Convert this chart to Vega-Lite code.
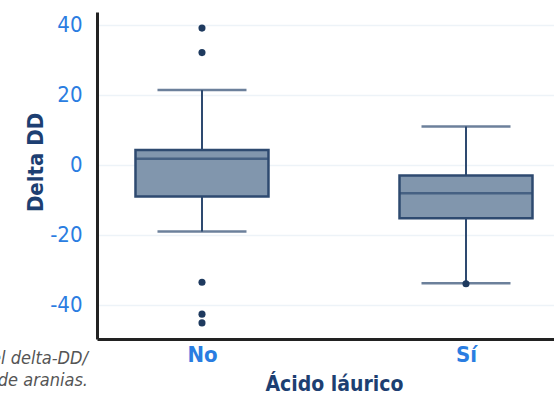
{
  "$schema": "https://vega.github.io/schema/vega-lite/v6.json",
  "width": 457,
  "height": 327,
  "autosize": {"type": "none"},
  "padding": {"left": 97, "top": 12, "right": 0, "bottom": 56},
  "background": "white",
  "title": {
    "text": ["r el delta-DD/", "o\u201d de aranias."],
    "orient": "bottom",
    "anchor": "start",
    "frame": "group",
    "align": "right",
    "dx": -9,
    "dy": -48,
    "font": "DejaVu Sans Condensed, DejaVu Sans, sans-serif",
    "fontStyle": "italic",
    "fontWeight": "normal",
    "fontSize": 18,
    "lineHeight": 22,
    "color": "#555555"
  },
  "datasets": {
    "summary": [
      {"grupo": "No", "inferior": -19.1, "q1": -9.1, "mediana": 1.7, "q3": 4.2, "superior": 21.3},
      {"grupo": "Sí", "inferior": -33.9, "q1": -15.3, "mediana": -8.2, "q3": -3.1, "superior": 10.9}
    ],
    "atipicos": [
      {"grupo": "No", "delta": 39.0},
      {"grupo": "No", "delta": 32.0},
      {"grupo": "No", "delta": -33.6},
      {"grupo": "No", "delta": -42.7},
      {"grupo": "No", "delta": -45.2},
      {"grupo": "Sí", "delta": -34.0}
    ]
  },
  "encoding": {
    "x": {
      "field": "grupo",
      "type": "nominal",
      "sort": ["No", "Sí"],
      "scale": {"type": "point", "padding": 0.3655, "align": 0.544},
      "axis": {
        "title": "Ácido láurico",
        "labelAngle": 0,
        "ticks": false,
        "labelPadding": 5,
        "labelFont": "DejaVu Sans Condensed, DejaVu Sans, sans-serif",
        "labelFontSize": 22,
        "labelFontWeight": "bold",
        "labelColor": "#2a7de1",
        "domainColor": "#222222",
        "domainWidth": 3,
        "titleFont": "DejaVu Sans Condensed, DejaVu Sans, sans-serif",
        "titleFontSize": 21,
        "titleFontWeight": "bold",
        "titleColor": "#1d3f72",
        "titleX": 237,
        "titleY": 51,
        "titleAlign": "center",
        "titleBaseline": "alphabetic"
      }
    }
  },
  "layer": [
    {
      "data": {"name": "summary"},
      "mark": {"type": "rule", "color": "#2e4a70", "strokeWidth": 2},
      "encoding": {
        "y": {
          "field": "inferior",
          "type": "quantitative",
          "scale": {"domain": [-49.8, 43.6], "nice": false, "zero": false},
          "axis": {
            "title": "Delta DD",
            "values": [-40, -20, 0, 20, 40],
            "labelExpr": "'' + datum.value",
            "ticks": false,
            "labelPadding": 15,
            "labelFont": "DejaVu Sans Condensed, DejaVu Sans, sans-serif",
            "labelFontSize": 22,
            "labelColor": "#2a7de1",
            "domainColor": "#222222",
            "domainWidth": 3,
            "grid": true,
            "gridColor": "#edf3f8",
            "gridWidth": 1.5,
            "titleFont": "DejaVu Sans Condensed, DejaVu Sans, sans-serif",
            "titleFontSize": 22,
            "titleFontWeight": "bold",
            "titleColor": "#1d3f72",
            "titleAngle": 270,
            "titleX": -62,
            "titleY": 150,
            "titleAlign": "center",
            "titleBaseline": "middle"
          }
        },
        "y2": {"field": "superior"}
      }
    },
    {
      "data": {"name": "summary"},
      "mark": {"type": "tick", "color": "#2e4a70", "size": 89, "thickness": 2.5},
      "encoding": {"y": {"field": "superior", "type": "quantitative"}}
    },
    {
      "data": {"name": "summary"},
      "mark": {"type": "tick", "color": "#2e4a70", "size": 89, "thickness": 2.5},
      "encoding": {"y": {"field": "inferior", "type": "quantitative"}}
    },
    {
      "data": {"name": "summary"},
      "mark": {"type": "bar", "size": 133, "fill": "#8196ad", "stroke": "#2e4a70", "strokeWidth": 2.5},
      "encoding": {
        "y": {"field": "q1", "type": "quantitative"},
        "y2": {"field": "q3"}
      }
    },
    {
      "data": {"name": "summary"},
      "mark": {"type": "tick", "color": "#2e4a70", "size": 133, "thickness": 2.5},
      "encoding": {"y": {"field": "mediana", "type": "quantitative"}}
    },
    {
      "data": {"name": "atipicos"},
      "mark": {"type": "point", "filled": true, "opacity": 1, "color": "#1e3a5f", "size": 50},
      "encoding": {"y": {"field": "delta", "type": "quantitative"}}
    }
  ],
  "config": {
    "view": {"stroke": null}
  }
}
